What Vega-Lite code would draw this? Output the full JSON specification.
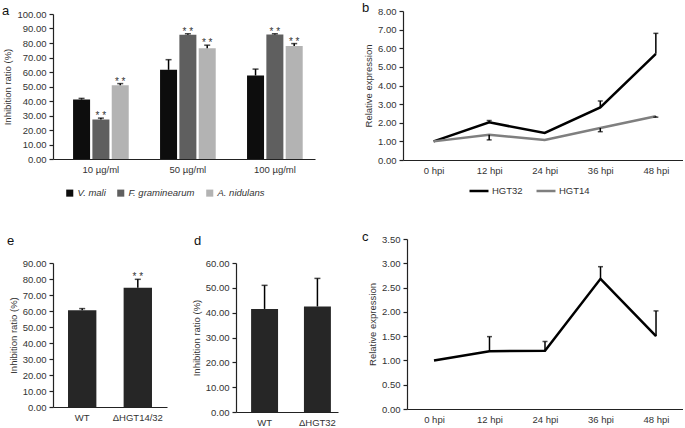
{
  "$schema": "https://vega.github.io/schema/vega-lite/v6.json",
  "background": "white",
  "autosize": {"type": "pad"},
  "padding": {"left": 2, "top": 2, "right": 0, "bottom": 0},
  "config": {
    "view": {"stroke": null},
    "font": "Liberation Sans",
    "axis": {"labelFont": "Liberation Sans", "titleFont": "Liberation Sans", "labelColor": "#333333", "titleColor": "#333333", "titleFontWeight": "normal", "labelFontSize": 9.5, "titleFontSize": 9.5, "grid": false, "domainColor": "#222222", "tickColor": "#222222", "domainWidth": 1.2, "tickWidth": 1.2, "tickSize": 4, "labelPadding": 3, "labelOverlap": false},
    "legend": {"labelFont": "Liberation Sans", "labelFontSize": 9.5, "labelColor": "#333333"},
    "title": {"anchor": "start", "frame": "group", "fontWeight": "normal", "fontSize": 13, "color": "#111111", "font": "Liberation Sans"}
  },
  "spacing": 33,
  "resolve": {"scale": {"color": "independent"}},
  "vconcat": [
    {
      "spacing": 88,
      "bounds": "flush",
      "resolve": {"scale": {"color": "independent"}},
      "hconcat": [
        {
          "width": 262,
          "height": 148,
          "title": {"text": "a", "dx": -51, "offset": -9},
          "data": {"values": [
            {"conc": "10 µg/ml", "species": "V. mali", "value": 41.0, "upper": 41.8, "sig": ""},
            {"conc": "10 µg/ml", "species": "F. graminearum", "value": 27.2, "upper": 28.2, "sig": "* *"},
            {"conc": "10 µg/ml", "species": "A. nidulans", "value": 50.8, "upper": 52.0, "sig": "* *"},
            {"conc": "50 µg/ml", "species": "V. mali", "value": 61.5, "upper": 68.5, "sig": ""},
            {"conc": "50 µg/ml", "species": "F. graminearum", "value": 85.7, "upper": 86.4, "sig": "* *"},
            {"conc": "50 µg/ml", "species": "A. nidulans", "value": 76.3, "upper": 78.5, "sig": "* *"},
            {"conc": "100 µg/ml", "species": "V. mali", "value": 57.6, "upper": 62.0, "sig": ""},
            {"conc": "100 µg/ml", "species": "F. graminearum", "value": 85.8, "upper": 86.4, "sig": "* *"},
            {"conc": "100 µg/ml", "species": "A. nidulans", "value": 78.0, "upper": 79.6, "sig": "* *"}
          ]},
          "encoding": {
            "x": {"field": "conc", "type": "nominal", "sort": ["10 µg/ml", "50 µg/ml", "100 µg/ml"], "scale": {"paddingInner": 0.36, "paddingOuter": 0.186, "align": 0.62}, "axis": {"title": null, "labelAngle": 0, "ticks": false, "labelPadding": 5}},
            "xOffset": {"field": "species", "type": "nominal", "sort": ["V. mali", "F. graminearum", "A. nidulans"], "scale": {"paddingInner": 0.12, "paddingOuter": 0}}
          },
          "layer": [
            {
              "mark": {"type": "bar"},
              "encoding": {
                "y": {"field": "value", "type": "quantitative", "scale": {"domain": [0, 100], "range": [148, 3]}, "axis": {"title": "Inhibition ratio (%)", "values": [0, 10, 20, 30, 40, 50, 60, 70, 80, 90, 100], "format": ".2f", "labelOverlap": false}},
                "color": {"field": "species", "type": "nominal", "sort": ["V. mali", "F. graminearum", "A. nidulans"], "scale": {"domain": ["V. mali", "F. graminearum", "A. nidulans"], "range": ["#0d0d0d", "#5f5f5f", "#b3b3b3"]}, "legend": {"title": null, "orient": "none", "legendX": 12, "legendY": 177, "direction": "horizontal", "symbolType": "square", "symbolSize": 50, "symbolStrokeWidth": 0, "labelFontStyle": "italic", "columnPadding": 10, "labelOffset": 3}}
              }
            },
            {"mark": {"type": "rule", "color": "#000000", "strokeWidth": 1.5}, "encoding": {"y": {"field": "value", "type": "quantitative", "axis": {"title": "Inhibition ratio (%)", "values": [0, 10, 20, 30, 40, 50, 60, 70, 80, 90, 100], "format": ".2f", "labelOverlap": false}}, "y2": {"field": "upper"}}},
            {"mark": {"type": "tick", "color": "#000000", "thickness": 1.5, "size": 6}, "encoding": {"y": {"field": "upper", "type": "quantitative", "axis": {"title": "Inhibition ratio (%)", "values": [0, 10, 20, 30, 40, 50, 60, 70, 80, 90, 100], "format": ".2f", "labelOverlap": false}}}},
            {"mark": {"type": "text", "baseline": "alphabetic", "fontSize": 10, "dy": 1, "color": "#333333"}, "encoding": {"y": {"field": "upper", "type": "quantitative", "axis": {"title": "Inhibition ratio (%)", "values": [0, 10, 20, 30, 40, 50, 60, 70, 80, 90, 100], "format": ".2f", "labelOverlap": false}}, "text": {"field": "sig"}}}
          ]
        },
        {
          "width": 280,
          "height": 149,
          "title": {"text": "b", "dx": -41, "offset": -9},
          "data": {"values": [
            {"hpi": "0 hpi", "gene": "HGT32", "value": 1.0, "err": null},
            {"hpi": "12 hpi", "gene": "HGT32", "value": 2.02, "err": 2.12},
            {"hpi": "24 hpi", "gene": "HGT32", "value": 1.45, "err": null},
            {"hpi": "36 hpi", "gene": "HGT32", "value": 2.82, "err": 3.17},
            {"hpi": "48 hpi", "gene": "HGT32", "value": 5.7, "err": 6.8},
            {"hpi": "0 hpi", "gene": "HGT14", "value": 1.0, "err": null},
            {"hpi": "12 hpi", "gene": "HGT14", "value": 1.36, "err": 1.08},
            {"hpi": "24 hpi", "gene": "HGT14", "value": 1.07, "err": null},
            {"hpi": "36 hpi", "gene": "HGT14", "value": 1.72, "err": 1.52},
            {"hpi": "48 hpi", "gene": "HGT14", "value": 2.35, "err": 2.3}
          ]},
          "encoding": {
            "x": {"field": "hpi", "type": "ordinal", "sort": ["0 hpi", "12 hpi", "24 hpi", "36 hpi", "48 hpi"], "scale": {"type": "point", "padding": 0.52, "align": 0.53}, "axis": {"title": null, "labelAngle": 0, "ticks": false, "labelPadding": 5}}
          },
          "layer": [
            {
              "mark": {"type": "line", "strokeWidth": 2.5},
              "encoding": {
                "y": {"field": "value", "type": "quantitative", "scale": {"domain": [0, 8], "range": [149, 0]}, "axis": {"title": "Relative expression", "values": [0, 1, 2, 3, 4, 5, 6, 7, 8], "format": ".2f", "labelOverlap": false}},
                "color": {"field": "gene", "type": "nominal", "scale": {"domain": ["HGT32", "HGT14"], "range": ["#000000", "#7f7f7f"]}, "legend": {"title": null, "orient": "none", "legendX": 65, "legendY": 169, "direction": "horizontal", "symbolType": "stroke", "symbolSize": 360, "symbolStrokeWidth": 2.5, "columnPadding": 8, "labelOffset": 2}}
              }
            },
            {"transform": [{"filter": "datum.err != null"}], "mark": {"type": "rule", "color": "#000000", "strokeWidth": 1.5}, "encoding": {"y": {"field": "value", "type": "quantitative", "axis": {"title": "Relative expression", "values": [0, 1, 2, 3, 4, 5, 6, 7, 8], "format": ".2f", "labelOverlap": false}}, "y2": {"field": "err"}}},
            {"transform": [{"filter": "datum.err != null"}], "mark": {"type": "tick", "color": "#000000", "thickness": 1.5, "size": 5}, "encoding": {"y": {"field": "err", "type": "quantitative", "axis": {"title": "Relative expression", "values": [0, 1, 2, 3, 4, 5, 6, 7, 8], "format": ".2f", "labelOverlap": false}}}}
          ]
        }
      ]
    },
    {
      "spacing": 69,
      "bounds": "flush",
      "hconcat": [
        {
          "width": 114,
          "height": 168,
          "title": {"text": "e", "dx": -46, "offset": -9},
          "data": {"values": [
            {"strain": "WT", "value": 60.5, "upper": 61.5, "sig": ""},
            {"strain": "ΔHGT14/32", "value": 74.5, "upper": 79.8, "sig": "* *"}
          ]},
          "encoding": {
            "x": {"field": "strain", "type": "nominal", "sort": ["WT", "ΔHGT14/32"], "scale": {"paddingInner": 0.49, "paddingOuter": 0.27, "align": 0.5}, "axis": {"title": null, "labelAngle": 0, "ticks": false, "labelPadding": 5}}
          },
          "layer": [
            {"mark": {"type": "bar", "color": "#262626"}, "encoding": {"y": {"field": "value", "type": "quantitative", "scale": {"domain": [0, 90], "range": [168, 24]}, "axis": {"title": "Inhibition ratio (%)", "values": [0, 10, 20, 30, 40, 50, 60, 70, 80, 90], "format": ".2f", "labelOverlap": false}}}},
            {"mark": {"type": "rule", "color": "#000000", "strokeWidth": 1.5}, "encoding": {"y": {"field": "value", "type": "quantitative", "axis": {"title": "Inhibition ratio (%)", "values": [0, 10, 20, 30, 40, 50, 60, 70, 80, 90], "format": ".2f", "labelOverlap": false}}, "y2": {"field": "upper"}}},
            {"mark": {"type": "tick", "color": "#000000", "thickness": 1.5, "size": 6}, "encoding": {"y": {"field": "upper", "type": "quantitative", "axis": {"title": "Inhibition ratio (%)", "values": [0, 10, 20, 30, 40, 50, 60, 70, 80, 90], "format": ".2f", "labelOverlap": false}}}},
            {"mark": {"type": "text", "baseline": "alphabetic", "fontSize": 10, "dy": 1, "color": "#333333"}, "encoding": {"y": {"field": "upper", "type": "quantitative", "axis": {"title": "Inhibition ratio (%)", "values": [0, 10, 20, 30, 40, 50, 60, 70, 80, 90], "format": ".2f", "labelOverlap": false}}, "text": {"field": "sig"}}}
          ]
        },
        {
          "width": 102,
          "height": 173,
          "title": {"text": "d", "dx": -42, "offset": -9},
          "data": {"values": [
            {"strain": "WT", "value": 41.5, "upper": 51.0},
            {"strain": "ΔHGT32", "value": 42.5, "upper": 53.8}
          ]},
          "encoding": {
            "x": {"field": "strain", "type": "nominal", "sort": ["WT", "ΔHGT32"], "scale": {"paddingInner": 0.49, "paddingOuter": 0.21, "align": 0.68}, "axis": {"title": null, "labelAngle": 0, "ticks": false, "labelPadding": 5}}
          },
          "layer": [
            {"mark": {"type": "bar", "color": "#262626"}, "encoding": {"y": {"field": "value", "type": "quantitative", "scale": {"domain": [0, 60], "range": [173, 24]}, "axis": {"title": "Inhibition ratio (%)", "values": [0, 10, 20, 30, 40, 50, 60], "format": ".2f", "labelOverlap": false}}}},
            {"mark": {"type": "rule", "color": "#000000", "strokeWidth": 1.5}, "encoding": {"y": {"field": "value", "type": "quantitative", "axis": {"title": "Inhibition ratio (%)", "values": [0, 10, 20, 30, 40, 50, 60], "format": ".2f", "labelOverlap": false}}, "y2": {"field": "upper"}}},
            {"mark": {"type": "tick", "color": "#000000", "thickness": 1.5, "size": 6}, "encoding": {"y": {"field": "upper", "type": "quantitative", "axis": {"title": "Inhibition ratio (%)", "values": [0, 10, 20, 30, 40, 50, 60], "format": ".2f", "labelOverlap": false}}}}
          ]
        },
        {
          "width": 276,
          "height": 170,
          "title": {"text": "c", "dx": -45, "offset": -10},
          "data": {"values": [
            {"hpi": "0 hpi", "value": 1.0, "err": null},
            {"hpi": "12 hpi", "value": 1.19, "err": 1.49},
            {"hpi": "24 hpi", "value": 1.2, "err": 1.39},
            {"hpi": "36 hpi", "value": 2.68, "err": 2.93},
            {"hpi": "48 hpi", "value": 1.5, "err": 2.02}
          ]},
          "encoding": {
            "x": {"field": "hpi", "type": "ordinal", "sort": ["0 hpi", "12 hpi", "24 hpi", "36 hpi", "48 hpi"], "scale": {"type": "point", "padding": 0.486, "align": 0.5}, "axis": {"title": null, "labelAngle": 0, "ticks": false, "labelPadding": 5}}
          },
          "layer": [
            {"mark": {"type": "line", "strokeWidth": 2.5, "color": "#000000"}, "encoding": {"y": {"field": "value", "type": "quantitative", "scale": {"domain": [0, 3.5]}, "axis": {"title": "Relative expression", "values": [0, 0.5, 1, 1.5, 2, 2.5, 3, 3.5], "format": ".2f", "labelOverlap": false}}}},
            {"transform": [{"filter": "datum.err != null"}], "mark": {"type": "rule", "color": "#000000", "strokeWidth": 1.5}, "encoding": {"y": {"field": "value", "type": "quantitative", "axis": {"title": "Relative expression", "values": [0, 0.5, 1, 1.5, 2, 2.5, 3, 3.5], "format": ".2f", "labelOverlap": false}}, "y2": {"field": "err"}}},
            {"transform": [{"filter": "datum.err != null"}], "mark": {"type": "tick", "color": "#000000", "thickness": 1.5, "size": 5}, "encoding": {"y": {"field": "err", "type": "quantitative", "axis": {"title": "Relative expression", "values": [0, 0.5, 1, 1.5, 2, 2.5, 3, 3.5], "format": ".2f", "labelOverlap": false}}}}
          ]
        }
      ]
    }
  ]
}
